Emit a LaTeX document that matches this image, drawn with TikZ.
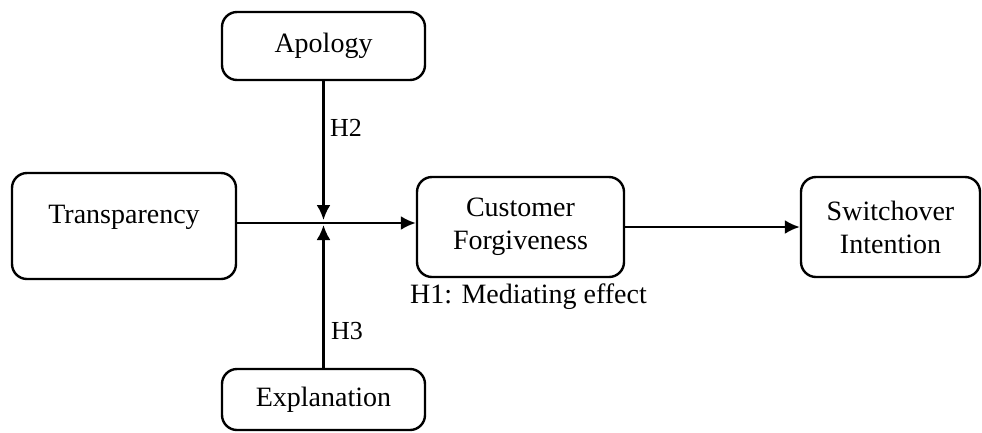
\documentclass[tikz,border=0pt]{standalone}
\usepackage{fontspec}
\setmainfont{Liberation Serif}
\usepackage{tikz}
\usetikzlibrary{arrows.meta}
\usetikzlibrary{shapes,arrows,positioning}
\tikzset{model-line/.style={line width=2.4pt}}
\tikzset{>={Latex[length=15pt,width=14pt]}}
\tikzset{model-node/.style={draw, line width=2.4pt, inner sep=0, rounded corners=15pt, align=center, font=\fontsize{28}{33}\selectfont}}
\tikzset{model-label/.style={inner sep=0, font=\fontsize{28}{33}\selectfont}}

\begin{document}
\begin{tikzpicture}[x=1pt, y=-1pt]
            \useasboundingbox (0,0) rectangle (982,432);

            \node[model-node, minimum width=203pt, minimum height=68pt] (apology) at (323.5,46) {Apology};
            \node[model-node, minimum width=224pt, minimum height=106pt, text depth=24pt] (transparency) at (124,226) {Transparency};
            \node[model-node, minimum width=207pt, minimum height=100pt] (forgiveness) at (520.5,227) {Customer\\Forgiveness};
            \node[model-node, minimum width=179pt, minimum height=100pt] (switchover) at (890.5,227) {Switchover\\Intention};
            \node[model-node, minimum width=203pt, minimum height=61pt] (explanation) at (323.5,399.5) {Explanation};

            \coordinate (junction) at (323.5,223);

            \draw[->, model-line] (transparency.east |- junction) -- (forgiveness.west |- junction);
            \draw[->, model-line, shorten >=3pt] (apology) -- (junction);
            \draw[->, model-line, shorten >=2pt] (explanation) -- (junction);
            \draw[->, model-line] (forgiveness) -- (switchover);

            \node[model-label, font=\fontsize{26}{30}\selectfont] (h2) at (346,128) {H2};
            \node[model-label, font=\fontsize{26}{30}\selectfont] (h3) at (347,331) {H3};
            \node[model-label] (h1) at (528.5,297) {H1: Mediating effect};
        \end{tikzpicture}
\end{document}
